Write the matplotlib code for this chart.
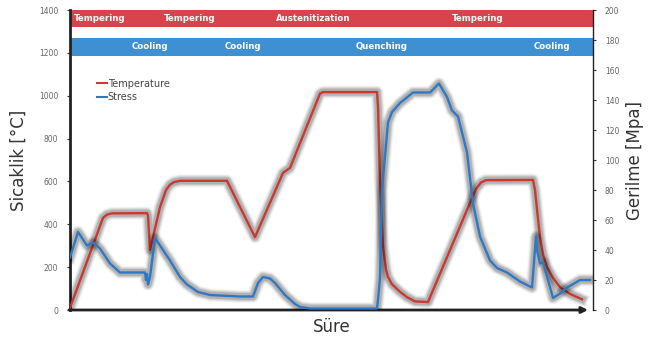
import matplotlib
matplotlib.use("Agg")
import matplotlib.pyplot as plt
import matplotlib.patheffects as pe
from matplotlib.patches import Rectangle

# Process timeline (arbitrary time units along the horizontal axis)
temp_time = [0, 33, 37, 42, 77, 78, 80, 84, 90, 96, 100, 104, 110, 157, 185,
             213, 220, 250, 253, 307, 308, 310, 313, 316, 318, 322, 330, 337,
             345, 358, 400, 406, 411, 416, 463, 465, 467, 470, 473, 477, 483,
             490, 500, 512]
temp_vals = [10, 430, 445, 451, 452, 440, 280, 360, 480, 560, 585, 597, 603,
             603, 340, 640, 663, 1010, 1017, 1017, 950, 600, 300, 190, 154,
             120, 85, 60, 40, 37, 500, 565, 595, 606, 607, 560, 470, 340, 260,
             200, 150, 107, 75, 50]

stress_time = [0, 8, 17, 23, 30, 40, 50, 75, 76, 77, 78, 80, 85, 100, 110,
               117, 128, 140, 170, 183, 188, 193, 200, 205, 215, 225, 230, 240,
               300, 307, 308, 310, 312, 318, 322, 330, 343, 360, 369, 377, 382,
               388, 397, 403, 410, 420, 427, 437, 450, 462, 466, 467, 470, 473,
               483, 490, 497, 505, 510, 520]
stress_vals = [35, 52, 43, 45, 41, 31, 25, 25, 20, 24, 17, 22, 48, 33, 22, 17,
               12, 10, 9, 9, 18, 22, 21, 18, 10, 4, 2, 1, 1, 1, 7, 21, 80, 125,
               132, 138, 145, 145, 151, 142, 133, 129, 105, 71, 49, 33, 28, 25,
               19, 15, 49, 40, 31, 32, 8, 11, 15, 18, 20, 20]

top_labels = ["Tempering", "Tempering", "Austenitization", "Tempering"]
top_pos = [30, 120, 243, 408]
bottom_labels = ["Cooling", "Cooling", "Quenching", "Cooling"]
bottom_pos = [80, 173, 312, 482]

temp_color = "#c8392f"
stress_color = "#2f78c4"
band_red = "#d9434b"
band_blue = "#3e90d2"


def glow():
    return [
        pe.Stroke(linewidth=9.5, foreground="#000000", alpha=0.035),
        pe.Stroke(linewidth=8, foreground="#000000", alpha=0.07),
        pe.Stroke(linewidth=6.5, foreground="#000000", alpha=0.10),
        pe.Stroke(linewidth=5, foreground="#000000", alpha=0.13),
        pe.Normal(),
    ]


fig = plt.figure(figsize=(6.62, 3.47), dpi=100)
ax = fig.add_axes([70 / 662, 37 / 347, 523 / 662, 300 / 347])
ax2 = ax.twinx()

ax.set_xlim(0, 523)
ax.set_ylim(0, 1400)
ax2.set_ylim(0, 200)

# Process-step bands across the top
ax.add_patch(Rectangle((0, 1321), 523, 79, color=band_red, zorder=1, lw=0))
ax.add_patch(Rectangle((0, 1185), 523, 84, color=band_blue, zorder=1, lw=0))
for lab, x in zip(top_labels, top_pos):
    ax.text(x, 1362, lab, color="white", fontsize=6.2, fontweight="bold",
            ha="center", va="center", zorder=2)
for lab, x in zip(bottom_labels, bottom_pos):
    ax.text(x, 1228, lab, color="white", fontsize=6.2, fontweight="bold",
            ha="center", va="center", zorder=2)

l1, = ax.plot(temp_time, temp_vals, color=temp_color, lw=1.7, zorder=4,
              solid_joinstyle="round", label="Temperature")
l1.set_path_effects(glow())
l2, = ax2.plot(stress_time, stress_vals, color=stress_color, lw=1.7, zorder=4,
               solid_joinstyle="round", label="Stress")
l2.set_path_effects(glow())

leg = ax.legend([l1, l2], ["Temperature", "Stress"], loc="upper left",
                bbox_to_anchor=(0.035, 0.80), frameon=False, fontsize=7,
                handlelength=1.0, handletextpad=0.1, labelspacing=0.35,
                labelcolor="#444444")
for h in leg.legend_handles:
    h.set_path_effects([])
    h.set_linewidth(1.5)

# Axes styling
for a in (ax, ax2):
    a.spines["top"].set_visible(False)
    a.spines["bottom"].set_visible(False)
ax.spines["right"].set_visible(False)
ax.spines["left"].set_linewidth(2.0)
ax.spines["left"].set_color("#222222")
ax2.spines["left"].set_visible(False)
ax2.spines["right"].set_linewidth(1.0)
ax2.spines["right"].set_color("#222222")

ax.set_xticks([])
ax.set_yticks(range(0, 1401, 200))
ax2.set_yticks(range(0, 201, 20))
ax.tick_params(axis="y", labelsize=5.5, labelcolor="#666666", length=2.5,
               width=0.8, color="#333333", pad=6)
ax2.tick_params(axis="y", labelsize=5.5, labelcolor="#666666", length=2.5,
                width=0.8, color="#333333", pad=6)

ax.set_ylabel("Sicaklik [°C]", fontsize=12, color="#333333", labelpad=8)
ax2.set_ylabel("Gerilme [Mpa]", fontsize=12, color="#333333", labelpad=5)
ax.set_xlabel("Süre", fontsize=12, color="#333333", labelpad=6)

# Time axis drawn as an arrow
ax.annotate("", xy=(518, 0), xytext=(-1, 0), xycoords="data",
            arrowprops=dict(arrowstyle="-|>", color="#222222", lw=2.0,
                            mutation_scale=9, shrinkA=0, shrinkB=0),
            annotation_clip=False, zorder=5)

ax.patch.set_visible(False)

fig.savefig("out.png", dpi=100)
